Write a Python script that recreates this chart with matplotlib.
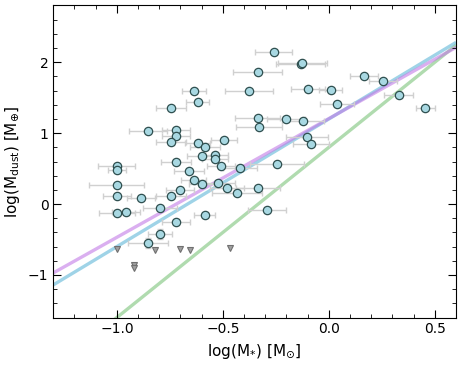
import numpy as np
import matplotlib
matplotlib.use("Agg")
import matplotlib.pyplot as plt
from matplotlib.ticker import MultipleLocator

# detections: log M* , log Mdust , x error
mstar = [-0.259, -0.133, -0.125, -0.336, 0.167, 0.256, -0.377, -0.098, 0.009, 0.329,
         0.038, 0.455, -0.638, -0.619, -0.745, -0.854, -0.722, -0.722, -0.745, -0.619,
         -0.585, -0.495, -0.600, -0.538, -0.538, -0.722, -1.0, -1.0, -0.659, -0.509,
         -0.421, -0.336, -0.201, -0.121, -0.329, -0.102, -0.086, -0.244, -0.638, -0.600,
         -0.522, -0.481, -0.431, -0.336, -0.292, -0.586, -1.0, -0.700, -0.745, -1.0,
         -0.887, -0.796, -1.0, -0.958, -0.722, -0.796, -0.854]
mdust = [2.14, 1.98, 1.99, 1.86, 1.80, 1.74, 1.59, 1.62, 1.61, 1.54,
         1.41, 1.36, 1.59, 1.44, 1.35, 1.03, 1.04, 0.96, 0.88, 0.86,
         0.80, 0.90, 0.68, 0.69, 0.63, 0.60, 0.535, 0.48, 0.46, 0.53,
         0.51, 1.22, 1.20, 1.17, 1.09, 0.95, 0.85, 0.57, 0.34, 0.28,
         0.30, 0.225, 0.155, 0.22, -0.085, -0.155, 0.27, 0.20, 0.12, 0.12,
         0.09, -0.06, -0.13, -0.11, -0.25, -0.42, -0.55]
mstar_err = [0.087, 0.117, 0.117, 0.114, 0.066, 0.066, 0.113, 0.08, 0.055, 0.07,
             0.08, 0.045, 0.057, 0.055, 0.072, 0.09, 0.066, 0.066, 0.072, 0.06,
             0.07, 0.06, 0.07, 0.06, 0.06, 0.07, 0.087, 0.043, 0.07, 0.066,
             0.08, 0.106, 0.09, 0.1, 0.11, 0.1, 0.085, 0.127, 0.06, 0.06,
             0.08, 0.08, 0.118, 0.104, 0.09, 0.05, 0.13, 0.066, 0.072, 0.065,
             0.067, 0.08, 0.085, 0.067, 0.066, 0.057, 0.094]
mdust_err = [0.0] * 55 + [0.07, 0.07]

# upper limits
ul_mstar = [-1.0, -0.822, -0.700, -0.657, -0.921, -0.921, -0.467]
ul_mdust = [-0.63, -0.65, -0.63, -0.65, -0.86, -0.90, -0.62]

# relations: slope, intercept, colour
rel_slope = [2.4, 1.8, 1.674]
rel_icpt = [0.8, 1.2, 1.205]
rel_col = ['#7cc47a', '#5fb7d8', '#c27ae6']

fig, ax = plt.subplots(figsize=(4.63, 3.65), dpi=100)

xx = np.array([-1.3, 0.6])
for s, b, c in zip(rel_slope, rel_icpt, rel_col):
    ax.plot(xx, s * xx + b, color=c, lw=2.4, alpha=0.6, zorder=1, solid_capstyle='butt')

ax.errorbar(mstar, mdust, xerr=mstar_err, yerr=mdust_err, fmt='none', ecolor='#d0d0d0',
            elinewidth=1.0, capsize=2, capthick=1.0, zorder=2)
ax.plot(mstar, mdust, 'o', ms=6, mfc='#a8d8e2', mec='#2f4f4f', mew=0.9, zorder=3)
ax.plot(ul_mstar, ul_mdust, 'v', ms=4.5, mfc='#a0a0a0', mec='#707070', mew=0.8, zorder=3)

ax.set_xlim(-1.3, 0.6)
ax.set_ylim(-1.6, 2.8)
ax.xaxis.set_major_locator(MultipleLocator(0.5))
ax.xaxis.set_minor_locator(MultipleLocator(0.1))
ax.yaxis.set_major_locator(MultipleLocator(1))
ax.yaxis.set_minor_locator(MultipleLocator(0.2))
ax.tick_params(which='both', direction='in', top=True, right=True)
ax.tick_params(which='major', length=6)
ax.tick_params(which='minor', length=3)
ax.set_xlabel(r'log(M$_{*}$) [M$_{\odot}$]', fontsize=11)
ax.set_ylabel(r'log(M$_{\rm dust}$) [M$_{\oplus}$]', fontsize=11)

fig.subplots_adjust(left=0.115, right=0.985, top=0.985, bottom=0.13)
fig.savefig('out.png', dpi=100)
